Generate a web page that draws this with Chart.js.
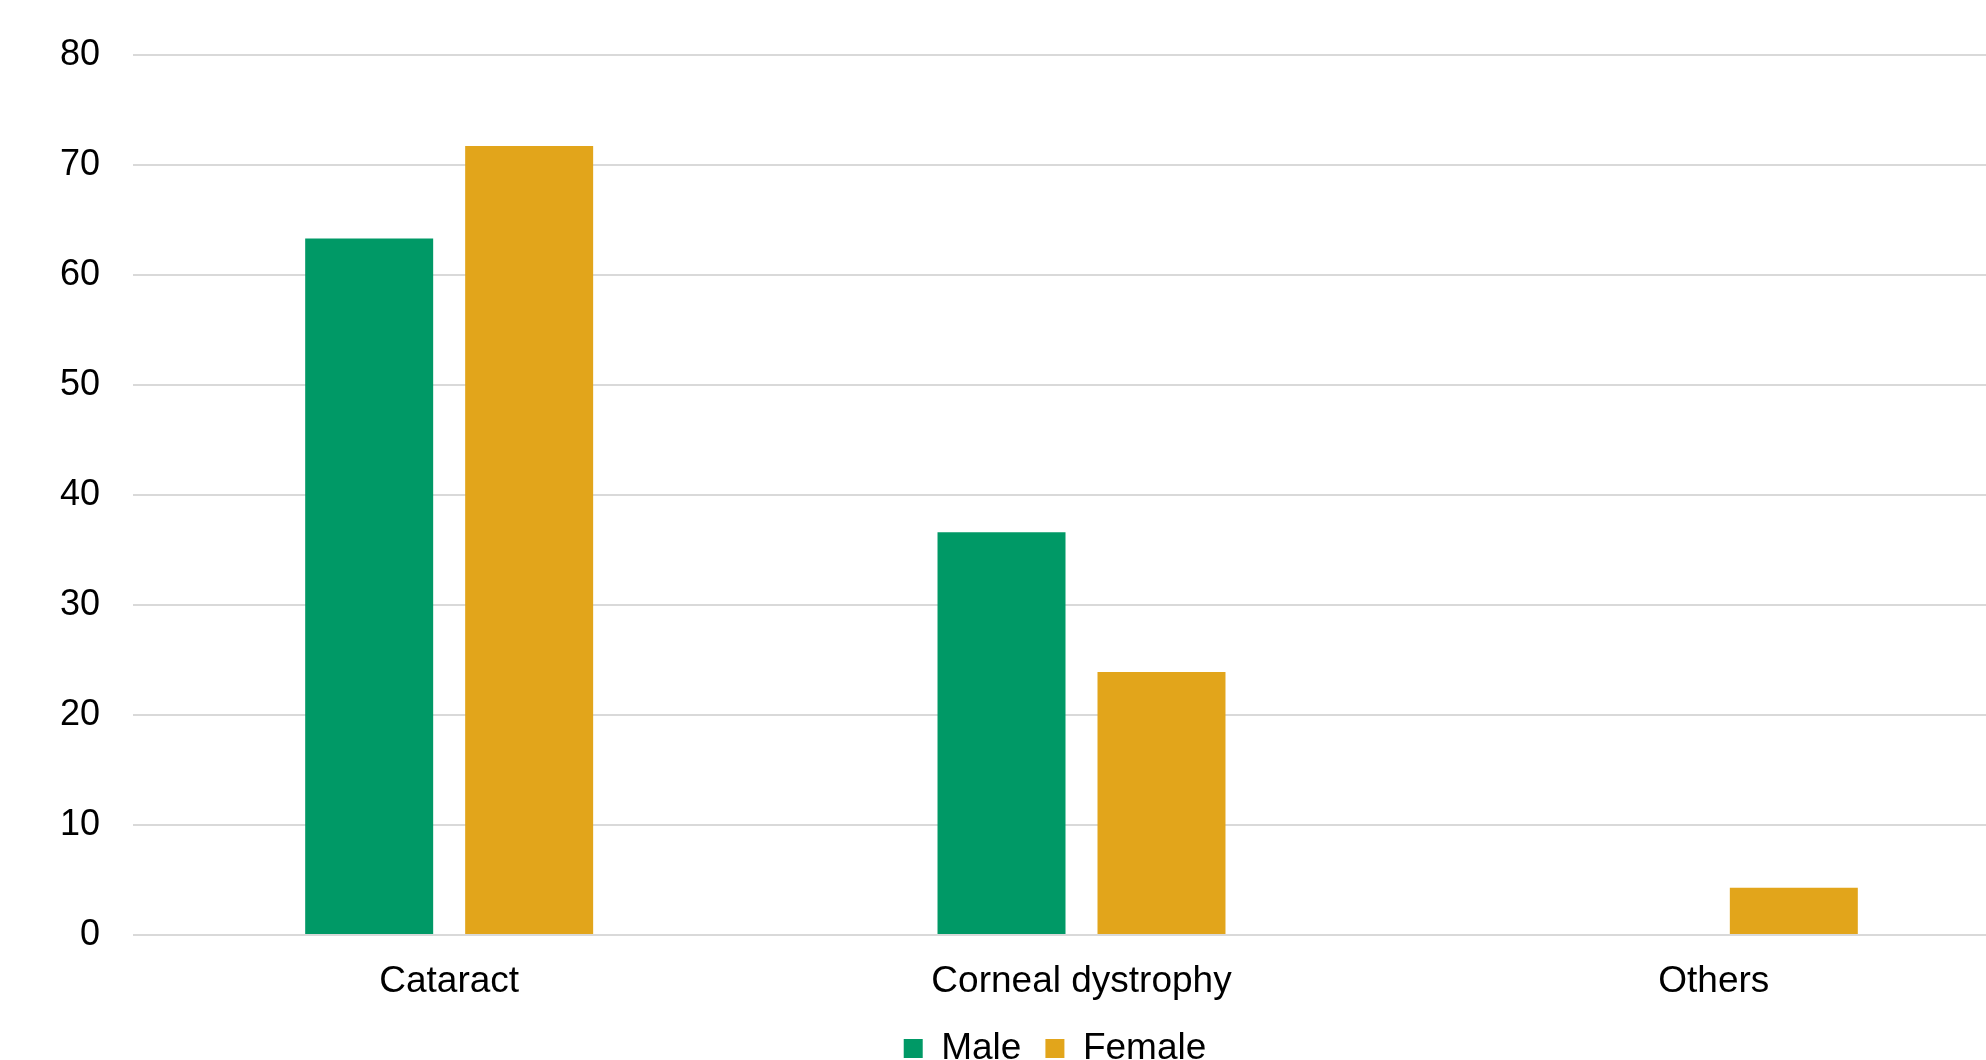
<!DOCTYPE html>
<html lang="en">
<head>
    <meta charset="UTF-8">
    <meta name="viewport" content="width=device-width">
    <script src="https://cdnjs.cloudflare.com/ajax/libs/Chart.js/4.4.1/chart.umd.min.js"></script>
    <title>Eye disease by sex</title>

    <style>
        html, body {
            margin: 0;
            padding: 0;
            background: #ffffff;
            overflow: hidden;
        }

        .chart-container {
            position: relative;
            width: 2110px;
            height: 1077px;
        }
    </style>
</head>
<body>

    <div class="chart-container">
        <canvas id="myChart"></canvas>
    </div>

    <script>

        const categories = ['Cataract', 'Corneal dystrophy', 'Others'];
        const maleValues = [63.3, 36.6, 0];
        const femaleValues = [71.7, 23.9, 4.3];
        const yTicks = [0, 10, 20, 30, 40, 50, 60, 70, 80];

        const green = '#009966';
        const gold = '#E2A51B';
        const fontFamily = '"Liberation Sans", Arial, sans-serif';

        Chart.defaults.font.family = fontFamily;
        Chart.defaults.color = '#000000';

        const data = {
            labels: categories,
            datasets: [
                {
                    label: 'Male',
                    data: maleValues,
                    backgroundColor: green,
                    borderWidth: 0,
                    barPercentage: 0.8,
                    categoryPercentage: 0.506
                },
                {
                    label: 'Female',
                    data: femaleValues,
                    backgroundColor: gold,
                    borderWidth: 0,
                    barPercentage: 0.8,
                    categoryPercentage: 0.506
                }
            ]
        };

        const options = {
            responsive: true,
            maintainAspectRatio: false,
            animation: false,
            layout: {
                padding: {
                    top: 52,
                    left: 0,
                    right: 0,
                    bottom: 0
                }
            },
            scales: {
                x: {
                    grid: {
                        display: false
                    },
                    border: {
                        display: false
                    },
                    ticks: {
                        color: '#000000',
                        padding: 17,
                        maxRotation: 0,
                        font: {
                            size: 37
                        }
                    },
                    afterFit: function(scale) {
                        scale.height = 71;
                    }
                },
                y: {
                    min: 0,
                    max: 80,
                    grid: {
                        color: '#d9d9d9',
                        lineWidth: 2,
                        drawTicks: false
                    },
                    border: {
                        display: false
                    },
                    afterBuildTicks: function(scale) {
                        scale.ticks = yTicks.map(v => ({ value: v }));
                    },
                    ticks: {
                        color: '#000000',
                        padding: 33,
                        font: {
                            size: 36
                        }
                    },
                    afterFit: function(scale) {
                        scale.width = 133;
                    }
                },
                // empty right axis, only keeps the plot away from the right edge
                yRight: {
                    position: 'right',
                    display: true,
                    grid: { display: false },
                    border: { display: false },
                    ticks: { display: false },
                    afterFit: function(scale) {
                        scale.width = 80;
                    }
                }
            },
            plugins: {
                legend: {
                    display: true,
                    position: 'bottom',
                    align: 'center',
                    labels: {
                        color: '#000000',
                        boxWidth: 19,
                        boxHeight: 19,
                        padding: 24,
                        font: {
                            size: 37
                        }
                    }
                },
                tooltip: {
                    enabled: false
                }
            }
        };

        const config = {
            type: 'bar',
            data: data,
            options: options
        };

        var myChart = new Chart(
            document.getElementById('myChart'),
            config
        );

    </script>
</body>
</html>
